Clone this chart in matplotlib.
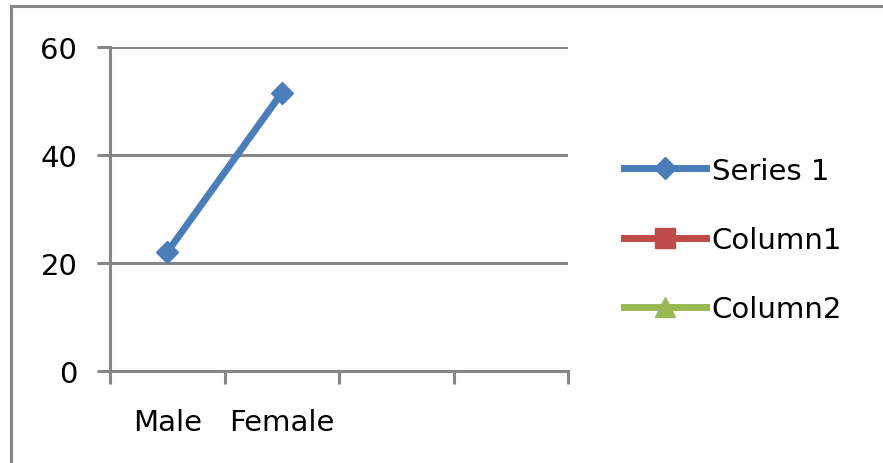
import matplotlib
matplotlib.use("Agg")
import matplotlib.pyplot as plt
from matplotlib.lines import Line2D
import numpy as np

# chart data
categories = ["Male", "Female", "", ""]
series1 = [22, 51.5, np.nan, np.nan]
column1 = [np.nan, np.nan, np.nan, np.nan]
column2 = [np.nan, np.nan, np.nan, np.nan]
y_ticks = [0, 20, 40, 60]

GRID = "#868686"
BLUE = "#4A7EBB"
RED = "#BE4B48"
GREEN = "#98B954"

W, H = 883, 464
fig = plt.figure(figsize=(W / 100, H / 100), dpi=100)
plt.rcParams["font.family"] = ["DejaVu Sans"]
fs = 21

ax = fig.add_axes([110 / W, (H - 372) / H, (568 - 110) / W, (372 - 48) / H])
x = np.arange(len(categories))

ax.plot(x, series1, color=BLUE, lw=5, marker="D", ms=11, label="Series 1")
ax.plot(x, column1, color=RED, lw=5, marker="s", ms=15, label="Column1")
ax.plot(x, column2, color=GREEN, lw=5, marker="^", ms=15, label="Column2")

ax.set_xlim(-0.5, len(categories) - 0.5)
ax.set_ylim(0, 60)
ax.set_yticks(y_ticks)
ax.yaxis.grid(True, color=GRID, lw=2.2)
ax.set_axisbelow(True)

ax.set_xticks(x)
ax.set_xticklabels(categories, fontsize=fs)
ax.set_xticks(np.arange(len(categories) + 1) - 0.5, minor=True)
ax.tick_params(axis="x", which="major", length=0, pad=27)
ax.tick_params(axis="x", which="minor", length=9, width=2.2, color=GRID, direction="out")
ax.tick_params(axis="y", length=9.5, width=2.2, color=GRID, labelsize=fs, pad=14)

for side in ["top", "right"]:
    ax.spines[side].set_visible(False)
for side in ["left", "bottom"]:
    ax.spines[side].set_color(GRID)
    ax.spines[side].set_linewidth(2.2)

fig.legend(loc="center left", bbox_to_anchor=(624 / W, 1 - 241 / H), frameon=False,
           fontsize=fs, handlelength=2.8, handletextpad=0.2, labelspacing=1.42,
           borderpad=0, borderaxespad=0)

# outer chart border (left and top edges)
fig.add_artist(Line2D([11 / W, 11 / W], [0, 1 - 7 / H], color=GRID, lw=2.2))
fig.add_artist(Line2D([11 / W, 1], [1 - 7 / H, 1 - 7 / H], color=GRID, lw=2.2))

fig.savefig("out.png", dpi=100)
